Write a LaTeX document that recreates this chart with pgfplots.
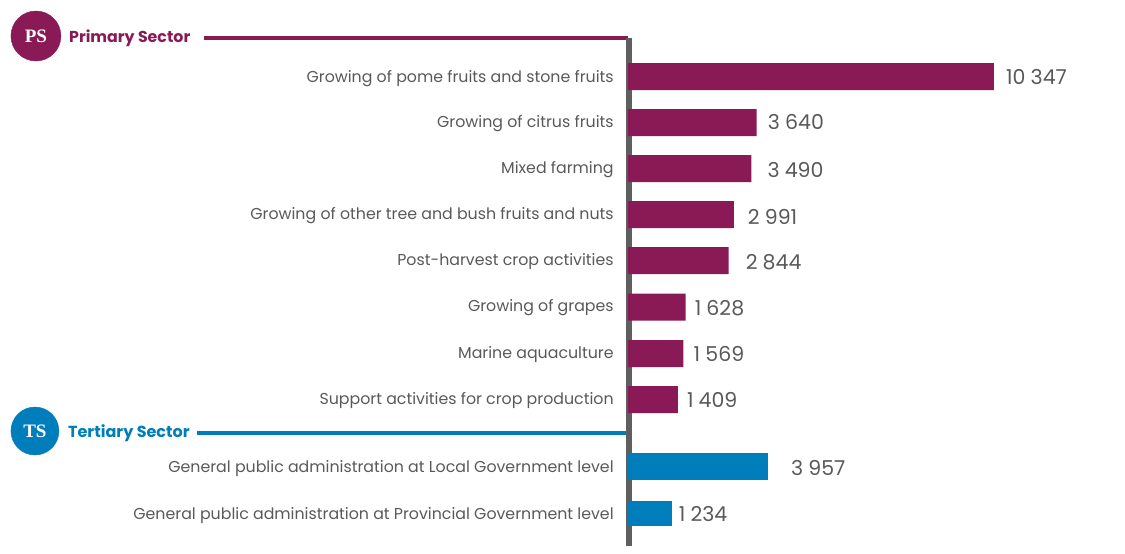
\documentclass[border=0pt]{standalone}
\usepackage{pgfplots}
\pgfplotsset{compat=1.18}
\usepackage{fontspec}
\setmainfont{Poppins}
\newfontfamily\badgefont{Liberation Serif}
\definecolor{plum}{HTML}{8A1A56}
\definecolor{seablue}{HTML}{007DBB}
\definecolor{spine}{HTML}{5F5F5F}
\definecolor{labelgray}{HTML}{595959}
% Value annotation placed to the right of a bar end
\newcommand{\valuelabel}[4]{\node[anchor=west,inner sep=0pt,font=\fontsize{20.5}{21}\selectfont,text=labelgray,xshift=#3pt] at (axis cs:#1,#2) {#4};}
\newcommand{\gap}{\hspace{0.25em}}
\begin{document}
\begin{tikzpicture}[x=1pt,y=1pt]
\path[use as bounding box] (0,0) rectangle (1125,554);
\begin{axis}[
  at={(0,0)},anchor=south west,
  scale only axis,width=1125pt,height=554pt,
  xmin=-17755,xmax=14052,ymin=0,ymax=554,
  y dir=reverse,
  axis x line=none,
  axis y line=middle,
  axis line style={draw=none,-},
  clip=false,
  ytick={77,122,168,214,260,306,353,399,467,514},
  yticklabels={
    Growing of pome fruits and stone fruits,
    Growing of citrus fruits,
    Mixed farming,
    Growing of other tree and bush fruits and nuts,
    Post-harvest crop activities,
    Growing of grapes,
    Marine aquaculture,
    Support activities for crop production,
    General public administration at Local Government level,
    General public administration at Provincial Government level},
  ytick style={draw=none},
  y tick label style={anchor=east,inner sep=0pt,xshift=-12pt,yshift=-2pt,text=labelgray,
    font=\fontsize{15.8}{16}\selectfont},
]
% Section rules and the central spine
\addplot[plum,line width=3.5pt,forget plot] coordinates {(-11988,38) (0,38)};
\addplot[seablue,line width=4.5pt,forget plot] coordinates {(-12186,433) (0,433)};
\addplot[spine,line width=5.5pt,forget plot] coordinates {(25,38) (25,546)};
% Section badges with their letters
\addplot[plum,only marks,mark=*,mark size=25pt,mark options={draw=plum,fill=plum},forget plot,
  nodes near coords={PS},
  every node near coord/.style={anchor=center,inner sep=0pt,yshift=0pt,text=white,
    font=\badgefont\fontsize{19}{19}\selectfont\bfseries}] coordinates {(-16739,36)};
\addplot[seablue,only marks,mark=*,mark size=24pt,mark options={draw=seablue,fill=seablue},forget plot,
  nodes near coords={TS},
  every node near coord/.style={anchor=center,inner sep=0pt,yshift=0pt,text=white,
    font=\badgefont\fontsize{19}{19}\selectfont\bfseries}] coordinates {(-16767,431)};
% Primary sector
\addplot[xbar,bar shift=0pt,bar width=27pt,draw=none,fill=plum,forget plot] coordinates {
  (10347,76.5) (3640,122.5) (3490,168.5) (2991,214.5)
  (2844,260.5) (1628,307) (1569,353.5) (1409,399.5)};
% Tertiary sector
\addplot[xbar,bar shift=0pt,bar width=27pt,draw=none,fill=seablue,forget plot] coordinates {(3957,466.5)};
\addplot[xbar,bar shift=0pt,bar width=25pt,draw=none,fill=seablue,forget plot] coordinates {(1234,513)};
% Bar values
\valuelabel{10347}{77}{12}{10\gap 347}
\valuelabel{3640}{122}{11}{3\gap 640}
\valuelabel{3490}{170}{16}{3\gap 490}
\valuelabel{2991}{217}{14}{2\gap 991}
\valuelabel{2844}{262}{17}{2\gap 844}
\valuelabel{1628}{308}{9}{1\gap 628}
\valuelabel{1569}{354}{10}{1\gap 569}
\valuelabel{1409}{400}{9}{1\gap 409}
\valuelabel{3957}{468}{23}{3\gap 957}
\valuelabel{1234}{514}{7}{1\gap 234}
% Section titles
\node[anchor=west,inner sep=0pt,text=plum,font=\fontsize{15.8}{16}\selectfont\bfseries] at (axis cs:-15805,38) {Primary Sector};
\node[anchor=west,inner sep=0pt,text=seablue,font=\fontsize{16}{16}\selectfont\bfseries] at (axis cs:-15833,433) {Tertiary Sector};
\end{axis}
\end{tikzpicture}
\end{document}
